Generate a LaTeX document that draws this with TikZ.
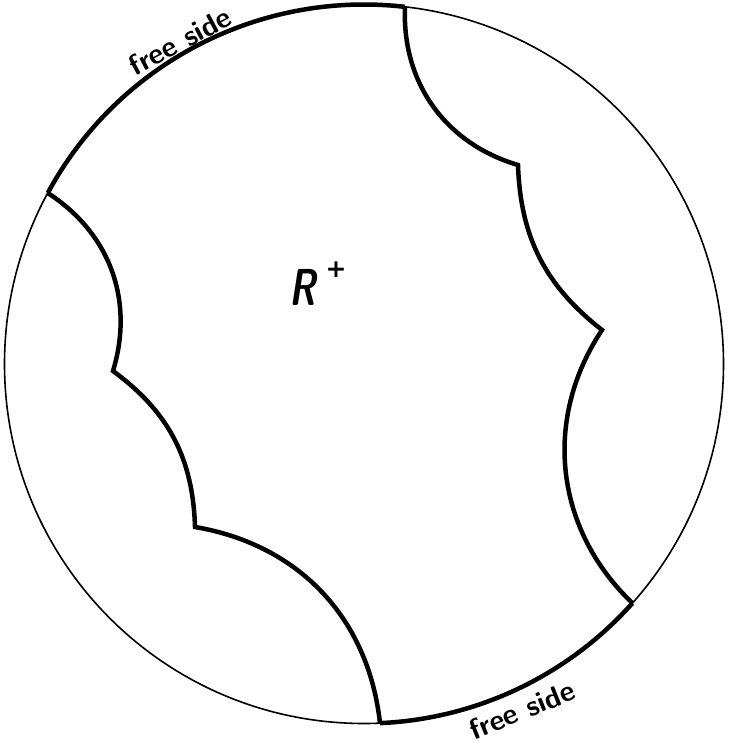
\documentclass[tikz,border=0pt]{standalone}
\usepackage{fontspec}
\newfontfamily\plusfont{DejaVu Sans}
\begin{document}
\begin{tikzpicture}[x=1pt,y=1pt,
  rim/.style={line width=1.6pt},
  wall/.style={line width=4.5pt},
  freetext/.style={font=\fontsize{29}{29}\selectfont\sffamily\bfseries\addfontfeature{LetterSpace=12}, inner sep=0pt},
  rtext/.style={font=\fontsize{52}{52}\selectfont\sffamily\bfseries\slshape, inner sep=0pt, xscale=0.72},
  ptext/.style={font=\fontsize{25}{25}\selectfont\plusfont\bfseries, inner sep=0pt}]
\useasboundingbox (0,0) rectangle (728,744);
\coordinate (O) at (364,380);
\coordinate (A) at ([shift={(83.45:359.5)}]O);
\coordinate (B) at ([shift={(151.6:359.5)}]O);
\coordinate (C) at ([shift={(-87.45:359.5)}]O);
\coordinate (D) at ([shift={(-41.7:359.5)}]O);
\coordinate (L1) at (113,373);
\coordinate (L2) at (195,217);
\coordinate (R1) at (518,579);
\coordinate (R2) at (602,414);
% disc
\draw[rim] (O) circle[radius=359.5];
% free sides
\draw[wall] (B) arc[start angle=151.6, end angle=83.45, radius=359.5];
\draw[wall] (C) arc[start angle=-87.45, end angle=-41.7, radius=359.5];
% scalloped walls
\draw[wall] (B) to[bend left=37] (L1) to[bend left=26] (L2) to[bend left=37] (C);
\draw[wall] (A) to[bend right=38] (R1) to[bend right=25] (R2) to[bend right=40] (D);
% labels
\node[freetext, rotate=28] (free1) at (180,703) {free side};
\node[freetext, rotate=22] (free2) at (522,34) {free side};
\node[rtext] (R) at (303,457) {R};
\node[ptext] (plus) at (336,474) {+};
\end{tikzpicture}
\end{document}
